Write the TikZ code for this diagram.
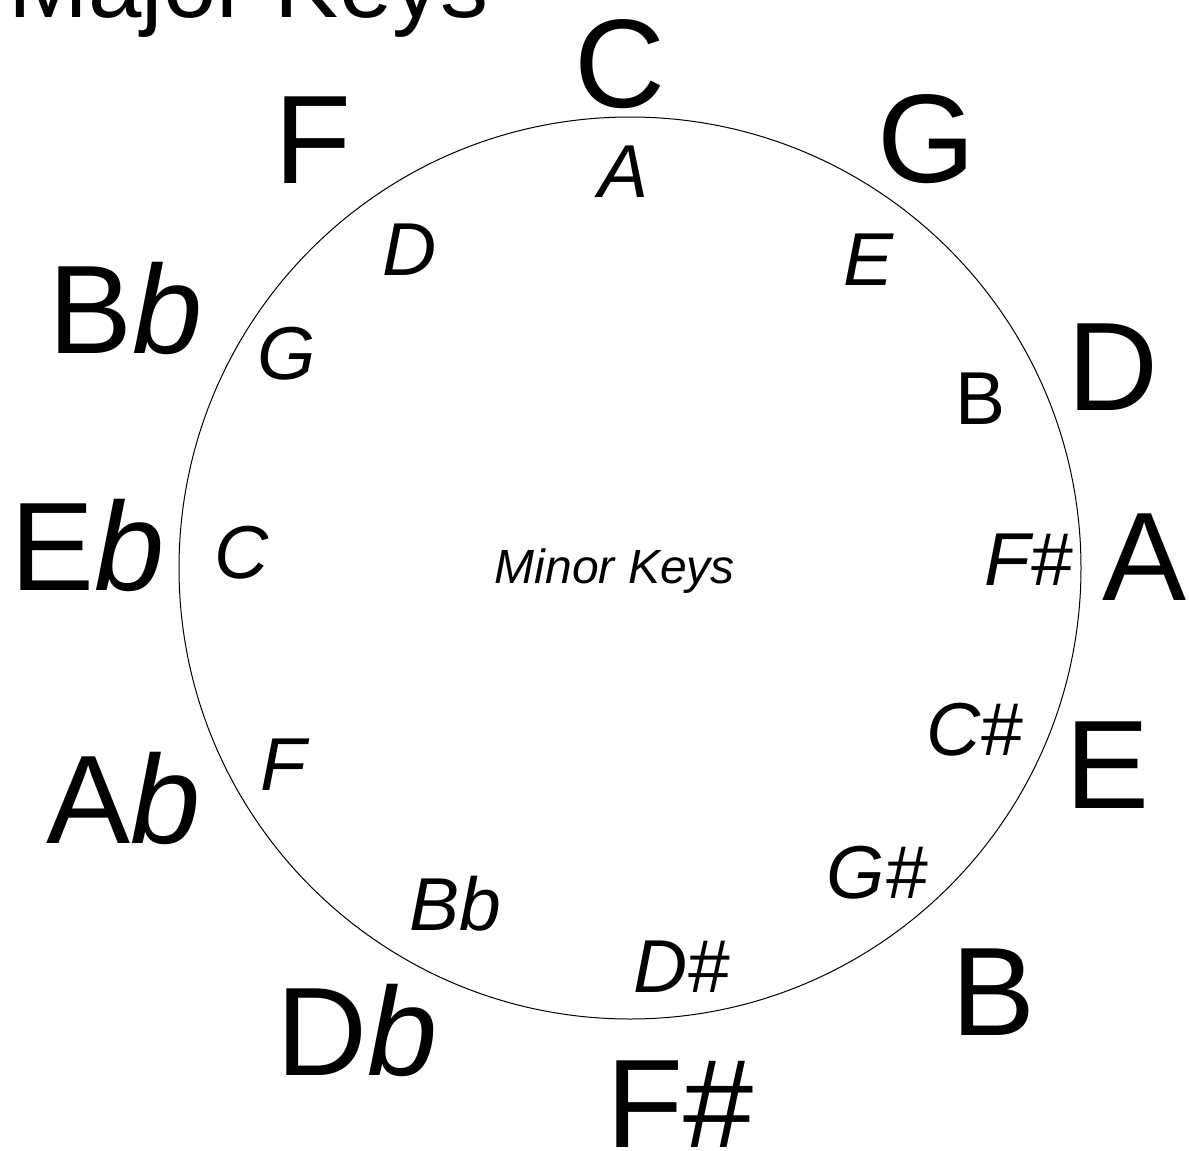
\documentclass[tikz,border=0pt]{standalone}
\usepackage{fontspec}
\setmainfont{Liberation Sans}
\begin{document}
\begin{tikzpicture}[x=0.5pt, y=-0.5pt,
  major/.style={anchor=base, inner sep=0pt, font=\fontsize{63}{63}\selectfont},
  minor/.style={anchor=base, inner sep=0pt, font=\fontsize{37.5}{37.5}\selectfont\itshape},
]
\useasboundingbox (0,0) rectangle (1189,1151);

% Title, cut by the top edge
\node[anchor=base west, inner sep=0pt, font=\fontsize{48}{48}\selectfont] (title) at (8, 18) {Major Keys};

% Wheel
\node[circle, draw, line width=0.5pt, minimum size=451pt, inner sep=0pt] (wheel) at (630, 568) {};

% Major keys, outside the wheel
\node[major] (maj-c)  at (620, 107)  {C};
\node[major] (maj-g)  at (926, 182)  {G};
\node[major] (maj-d)  at (1113, 410) {D};
\node[major] (maj-a)  at (1145, 600) {A};
\node[major] (maj-e)  at (1108, 808) {E};
\node[major] (maj-b)  at (994, 1035) {B};
\node[major] (maj-fs) at (680, 1147) {F\#};
\node[major] (maj-db) at (357, 1075) {D\textit{b}};
\node[major] (maj-ab) at (124, 843)  {A\textit{b}};
\node[major] (maj-eb) at (88, 590)   {E\textit{b}};
\node[major] (maj-bb) at (126, 353)  {B\textit{b}};
\node[major] (maj-f)  at (313, 183)  {F};

% Minor keys, inside the wheel
\node[minor] (min-a)  at (624, 197)  {A};
\node[minor] (min-e)  at (869, 285)  {E};
\node[minor, font=\fontsize{37.5}{37.5}\selectfont\upshape] (min-b) at (981, 424) {B};
\node[minor] (min-fs) at (1028, 585) {F\#};
\node[minor] (min-cs) at (974, 755)  {C\#};
\node[minor] (min-gs) at (877, 898)  {G\#};
\node[minor] (min-ds) at (681, 992)  {D\#};
\node[minor] (min-bb) at (455, 930)  {Bb};
\node[minor] (min-f)  at (283, 790)  {F};
\node[minor] (min-c)  at (242, 578)  {C};
\node[minor] (min-g)  at (287, 379)  {G};
\node[minor] (min-d)  at (410, 275)  {D};

\node[minor, font=\fontsize{24}{24}\selectfont\itshape] (minor-keys) at (615, 583) {Minor Keys};
\end{tikzpicture}
\end{document}
